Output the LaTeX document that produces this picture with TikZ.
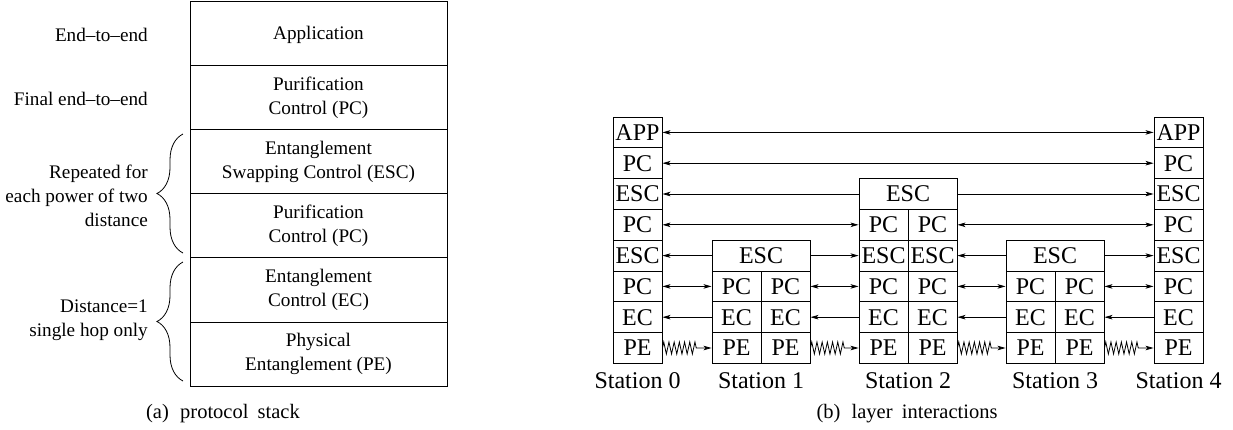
\documentclass[tikz,border=0pt]{standalone}
\usepackage{fontspec}
\setmainfont{Liberation Serif}
\usetikzlibrary{arrows.meta,decorations.pathreplacing,decorations.pathmorphing}

\tikzset{
  layer/.style={draw, line width=0.9pt, minimum width=257pt, minimum height=64.2pt,
    inner sep=0pt, align=center, font=\fontsize{19.2}{24}\selectfont},
  note/.style={anchor=east, align=right, inner sep=0pt, font=\fontsize{19.2}{24}\selectfont},
  cell/.style={draw, line width=0.9pt, minimum width=49pt, minimum height=30.8pt,
    inner sep=0pt, font=\fontsize{24}{28}\selectfont},
  widecell/.style={cell, minimum width=98pt},
  station/.style={anchor=north, inner sep=0pt, font=\fontsize{24}{28}\selectfont},
  subcap/.style={inner sep=0pt, font=\fontsize{20.5}{24}\selectfont},
  link/.style={line width=0.8pt, >={Stealth[length=8pt,width=4.5pt,inset=2pt]}},
  wavy/.style={link, ->, decorate, decoration={zigzag, segment length=5.2pt,
    amplitude=6pt, post=lineto, post length=13pt}},
  grouping/.style={line width=0.8pt, decorate, decoration={brace, amplitude=26pt}}
}

\begin{document}
\begin{tikzpicture}[x=1pt, y=-1pt]
  \useasboundingbox (0,0) rectangle (1233,429);

  % (a) protocol stack
  \node[layer, text depth=0pt] (app) at (318.5,33.1) {Application};
  \node[layer] (pcfin) at (318.5,97.3) {Purification\\Control (PC)};
  \node[layer] (esc) at (318.5,161.5) {Entanglement\\Swapping Control (ESC)};
  \node[layer] (pc) at (318.5,225.7) {Purification\\Control (PC)};
  \node[layer] (ec) at (318.5,289.9) {Entanglement\\Control (EC)};
  \node[layer] (pe) at (318.5,354.1) {Physical\\Entanglement (PE)};

  \node[note] (n1) at (148,35) {End--to--end};
  \node[note] (n2) at (148,99) {Final end--to--end};
  \node[note] (n3) at (148,196) {Repeated for\\each power of two\\distance};
  \node[note] (n4) at (148,320) {Distance=1\\single hop only};

  \coordinate (b1s) at (183,253);
  \coordinate (b1e) at (183,134);
  \coordinate (b2s) at (183,381);
  \coordinate (b2e) at (183,262);
  \draw[grouping] (b1s) -- (b1e);
  \draw[grouping] (b2s) -- (b2e);

  \node[subcap] (capa) at (223,414) {(a)\hspace{0.3em} protocol\hspace{0.2em} stack};

  % (b) layer interactions
  \foreach \lab [count=\i] in {APP,PC,ESC,PC,ESC,PC,EC,PE} {
    \node[cell] (st0-\i) at (637.5,{117+30.8*(\i-0.5)}) {\lab};
    \node[cell] (st4-\i) at (1178.5,{117+30.8*(\i-0.5)}) {\lab};
  }
  \foreach \s/\x in {1/761,3/1055} {
    \node[widecell] (st\s-5) at (\x,255.6) {ESC};
    \foreach \lab [count=\i from 6] in {PC,EC,PE} {
      \node[cell] (st\s-\i-L) at ({\x-24.5},{117+30.8*(\i-0.5)}) {\lab};
      \node[cell] (st\s-\i-R) at ({\x+24.5},{117+30.8*(\i-0.5)}) {\lab};
    }
  }
  \node[widecell] (st2-3) at (908,194) {ESC};
  \foreach \lab [count=\i from 4] in {PC,ESC,PC,EC,PE} {
    \node[cell] (st2-\i-L) at (883.5,{117+30.8*(\i-0.5)}) {\lab};
    \node[cell] (st2-\i-R) at (932.5,{117+30.8*(\i-0.5)}) {\lab};
  }

  \node[station] (lab0) at (637.5,372) {Station 0};
  \node[station] (lab1) at (761,372) {Station 1};
  \node[station] (lab2) at (908,372) {Station 2};
  \node[station] (lab3) at (1055,372) {Station 3};
  \node[station] (lab4) at (1178.5,372) {Station 4};

  % end to end
  \draw[link, <->] (st0-1) -- (st4-1);
  \draw[link, <->] (st0-2) -- (st4-2);
  \draw[link, ->] (st2-3) -- (st0-3);
  \draw[link, ->] (st2-3) -- (st4-3);
  \draw[link, <->] (st0-4) -- (st2-4-L);
  \draw[link, <->] (st2-4-R) -- (st4-4);
  % two hops
  \draw[link, ->] (st1-5) -- (st0-5);
  \draw[link, ->] (st1-5) -- (st2-5-L);
  \draw[link, ->] (st3-5) -- (st2-5-R);
  \draw[link, ->] (st3-5) -- (st4-5);
  % single hop
  \draw[link, <->] (st0-6) -- (st1-6-L);
  \draw[link, <->] (st1-6-R) -- (st2-6-L);
  \draw[link, <->] (st2-6-R) -- (st3-6-L);
  \draw[link, <->] (st3-6-R) -- (st4-6);
  \draw[link, ->] (st1-7-L) -- (st0-7);
  \draw[link, ->] (st2-7-L) -- (st1-7-R);
  \draw[link, ->] (st3-7-L) -- (st2-7-R);
  \draw[link, ->] (st4-7) -- (st3-7-R);
  \draw[wavy] (st0-8) -- (st1-8-L);
  \draw[wavy] (st1-8-R) -- (st2-8-L);
  \draw[wavy] (st2-8-R) -- (st3-8-L);
  \draw[wavy] (st3-8-R) -- (st4-8);

  \node[subcap] (capb) at (907,414) {(b)\hspace{0.3em} layer\hspace{0.2em} interactions};
\end{tikzpicture}
\end{document}
